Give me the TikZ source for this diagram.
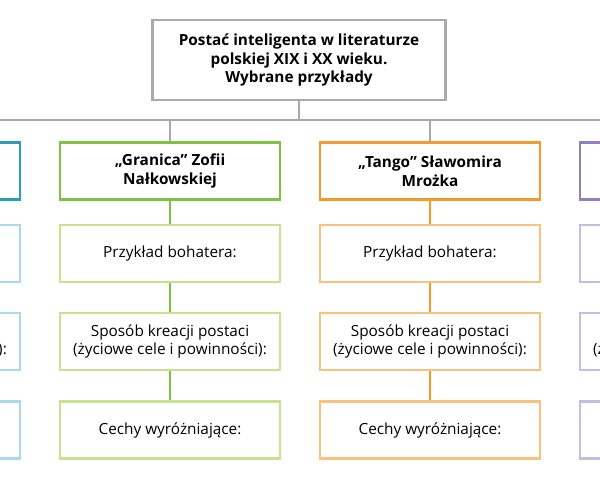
\documentclass[tikz,border=0pt]{standalone}
\usepackage{fontspec}
\setmainfont{Open Sans}
\usetikzlibrary{positioning}
\definecolor{lineGray}{HTML}{AAAAAA}
\definecolor{tealDark}{HTML}{2A9DB5}
\definecolor{tealLight}{HTML}{A9D9EC}
\definecolor{greenDark}{HTML}{7DC243}
\definecolor{greenLight}{HTML}{C8E18C}
\definecolor{orangeDark}{HTML}{F39A2B}
\definecolor{orangeLight}{HTML}{F8C27C}
\definecolor{purpleDark}{HTML}{8F80C4}
\definecolor{purpleLight}{HTML}{C5BCE2}
\tikzset{
  box/.style={draw, line width=1.8pt, fill=white, minimum width=165pt, minimum height=43pt,
    align=center, inner sep=2pt, font=\fontsize{11.5}{14}\selectfont},
  head/.style={box, font=\fontsize{11.5}{14}\selectfont\bfseries},
  link/.style={line width=1.8pt}
}
\begin{document}
\begin{tikzpicture}[x=0.75pt,y=-0.75pt]
\useasboundingbox (0,0) rectangle (600,480);
\clip (0,0) rectangle (600,480);
\node[head, draw=lineGray, minimum width=220pt, minimum height=60pt] (title) at (299,60)
  {Postać inteligenta w literaturze\\polskiej XIX i XX wieku.\\Wybrane przykłady};
\coordinate (bar) at (299,120);
\draw[link, lineGray] (title.south) -- (bar);
\draw[link, lineGray] (-90,120) -- (690,120);
\foreach \cx/\dark/\light/\name in {-90/tealDark/tealLight/{},
    170/greenDark/greenLight/{„Granica” Zofii\\Nałkowskiej},
    430/orangeDark/orangeLight/{„Tango” Sławomira\\Mrożka},
    690/purpleDark/purpleLight/{}} {
  \node[head, draw=\dark] (col\cx) at (\cx,171) {\name};
  \node[box, draw=\light] (hero\cx) at (\cx,253.5) {Przykład bohatera:};
  \node[box, draw=\light] (crea\cx) at (\cx,341.5) {Sposób kreacji postaci\\(życiowe cele i powinności):};
  \node[box, draw=\light] (feat\cx) at (\cx,430) {Cechy wyróżniające:};
  \draw[link, lineGray] (\cx,120) -- (col\cx.north);
  \draw[link, \dark] (col\cx) -- (hero\cx);
  \draw[link, \dark] (hero\cx) -- (crea\cx);
  \draw[link, \dark] (crea\cx) -- (feat\cx);
}
\end{tikzpicture}
\end{document}
